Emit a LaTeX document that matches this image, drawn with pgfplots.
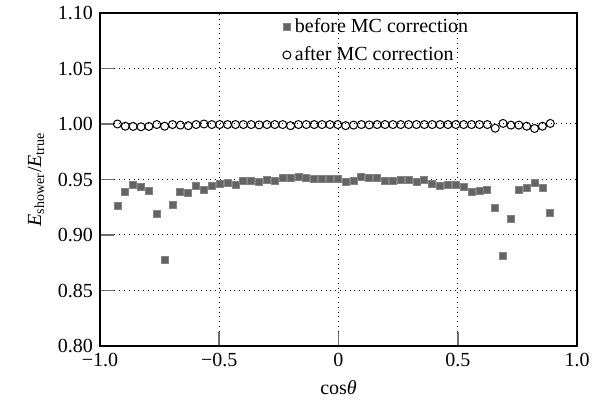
\documentclass[border=0pt]{standalone}
\usepackage{pgfplots}
\pgfplotsset{compat=1.18}
\usepackage{fontspec}
\setmainfont{Liberation Serif}
\definecolor{sqgray}{RGB}{100,100,100}
\definecolor{tickgray}{RGB}{110,110,110}

\begin{document}
\begin{tikzpicture}
\useasboundingbox (-50pt,-30pt) rectangle (252.5pt,173pt);
\begin{axis}[
  scale only axis,
  width=238.5pt, height=166.5pt,
  xmin=-1, xmax=1, ymin=0.80, ymax=1.10,
  xtick={-1,-0.5,0,0.5,1},
  xticklabels={\textrm{−1.0},\textrm{−0.5},\textrm{0},\textrm{0.5},\textrm{1.0}},
  ytick={0.80,0.85,0.90,0.95,1.00,1.05,1.10},
  yticklabels={\textrm{0.80},\textrm{0.85},\textrm{0.90},\textrm{0.95},\textrm{1.00},\textrm{1.05},\textrm{1.10}},
  tick pos=left,
  tick align=inside,
  major tick length=7pt,
  tick style={tickgray, line width=0.8pt},
  grid=major,
  grid style={black, dotted, line width=0.5pt},
  axis line style={black, line width=0.6pt},
  xlabel={cos\textit{θ}},
  ylabel={\textit{E}\textsubscript{shower}/\textit{E}\textsubscript{true}},
  font=\fontsize{10}{12}\selectfont,
  ticklabel style={font=\fontsize{10}{12}\selectfont},
  legend style={at={(0.37,1.009)}, anchor=north west, draw=none, fill=none,
    font=\fontsize{10}{12}\selectfont, row sep=1.5pt},
  legend cell align=left,
]
\addplot[only marks, mark=square*, mark size=1.75pt, color=sqgray,
  mark options={draw=sqgray!80!white, fill=sqgray}] coordinates {
(-0.927,0.926) (-0.894,0.939) (-0.861,0.9455) (-0.828,0.943) (-0.795,0.9394)
(-0.762,0.919) (-0.729,0.878) (-0.696,0.927) (-0.663,0.9385) (-0.630,0.938)
(-0.597,0.9445) (-0.564,0.941) (-0.531,0.944) (-0.498,0.946) (-0.465,0.947)
(-0.432,0.9455) (-0.399,0.9485) (-0.366,0.949) (-0.333,0.948) (-0.300,0.9494)
(-0.267,0.949) (-0.234,0.9515) (-0.201,0.951) (-0.168,0.9524) (-0.135,0.951)
(-0.102,0.9506) (-0.069,0.9503) (-0.036,0.9506) (-0.003,0.9503) (0.030,0.9476)
(0.063,0.949) (0.096,0.9527) (0.129,0.951) (0.162,0.951) (0.195,0.9485)
(0.228,0.949) (0.261,0.950) (0.294,0.9497) (0.327,0.948) (0.360,0.9497)
(0.393,0.946) (0.426,0.944) (0.459,0.945) (0.492,0.945) (0.525,0.943)
(0.558,0.9385) (0.591,0.9394) (0.624,0.9406) (0.657,0.9245) (0.690,0.8815)
(0.723,0.9145) (0.756,0.941) (0.789,0.9427) (0.822,0.9467) (0.855,0.9424)
(0.888,0.920)
};
\addlegendentry{before MC correction}
\addplot[only marks, mark=o, mark size=2pt, color=black,
  mark options={line width=0.5pt}] coordinates {
(-0.927,1.000) (-0.894,0.998) (-0.861,0.9978) (-0.828,0.9975) (-0.795,0.9978)
(-0.762,0.9995) (-0.729,0.998) (-0.696,0.9995) (-0.663,0.999) (-0.630,0.9985)
(-0.597,0.9995) (-0.564,1.000) (-0.531,0.9995) (-0.498,0.9995) (-0.465,0.9995)
(-0.432,0.9995) (-0.399,0.9995) (-0.366,0.9995) (-0.333,0.9992) (-0.300,0.9995)
(-0.267,0.9995) (-0.234,0.9995) (-0.201,0.9985) (-0.168,0.9995) (-0.135,0.9995)
(-0.102,0.9995) (-0.069,0.9995) (-0.036,0.9995) (-0.003,0.9995) (0.030,0.9985)
(0.063,0.999) (0.096,0.9995) (0.129,0.9992) (0.162,0.9995) (0.195,0.9995)
(0.228,0.9995) (0.261,0.9995) (0.294,0.9995) (0.327,0.9995) (0.360,0.9995)
(0.393,0.9995) (0.426,0.9995) (0.459,0.9995) (0.492,0.9995) (0.525,0.9995)
(0.558,0.9995) (0.591,0.9995) (0.624,0.9995) (0.657,0.9962) (0.690,1.0005)
(0.723,0.999) (0.756,0.999) (0.789,0.998) (0.822,0.996) (0.855,0.998)
(0.888,1.0005)
};
\addlegendentry{after MC correction}
\end{axis}
\end{tikzpicture}
\end{document}
